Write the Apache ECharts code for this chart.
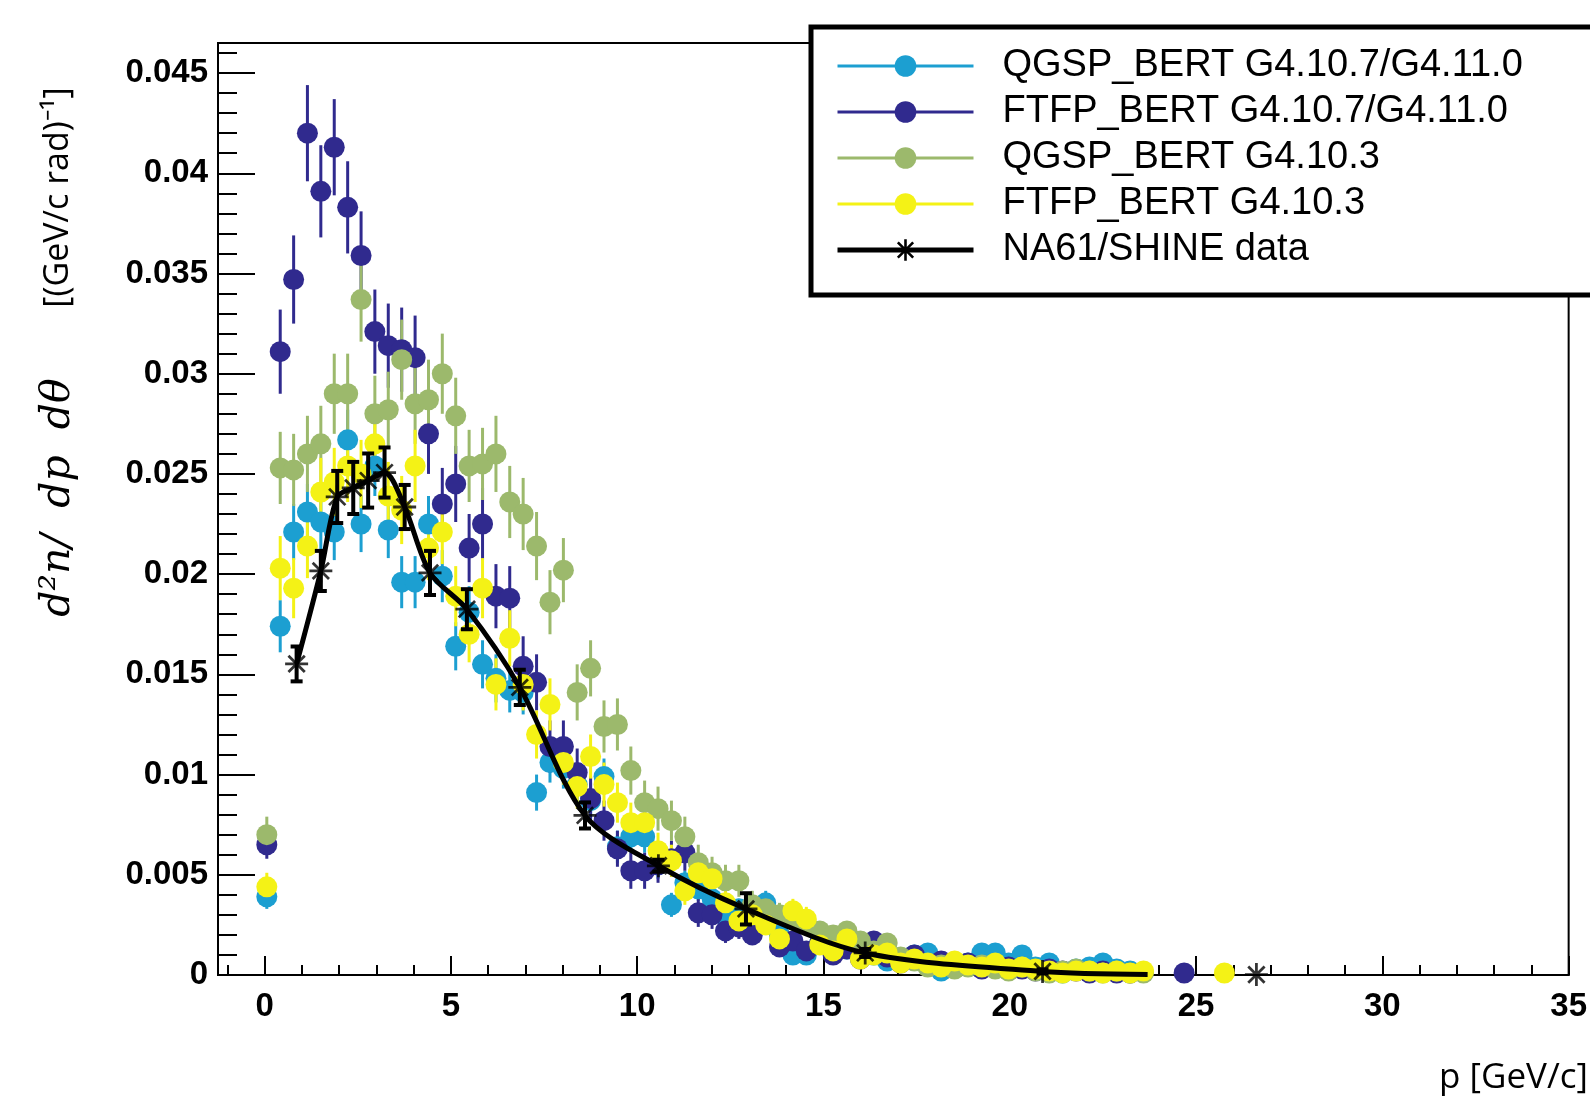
<!DOCTYPE html>
<html><head><meta charset="utf-8">
<script src="https://cdn.jsdelivr.net/npm/echarts@6/dist/echarts.min.js"></script>
<style>html,body{margin:0;padding:0;background:#fff;}#chart{width:1590px;height:1098px;}</style>
</head><body><div id="chart"></div>
<script>
// ---------- DATA ----------
const seriesNames = ['QGSP_BERT G4.10.7/G4.11.0','FTFP_BERT G4.10.7/G4.11.0','QGSP_BERT G4.10.3','FTFP_BERT G4.10.3','NA61/SHINE data'];

// momentum bin centres [GeV/c]
const pGrid = [0.06,0.42,0.78,1.15,1.51,1.87,2.23,2.59,2.96,3.32,
  3.68,4.04,4.40,4.77,5.13,5.49,5.85,6.21,6.58,6.94,
  7.30,7.66,8.02,8.39,8.75,9.11,9.47,9.83,10.20,10.56,
  10.92,11.28,11.64,12.01,12.37,12.73,13.09,13.45,13.82,14.18,
  14.54,14.90,15.26,15.63,15.99,16.35,16.71,17.07,17.44,17.80,
  18.16,18.52,18.88,19.25,19.61,19.97,20.33,20.69,21.06,21.42,
  21.78,22.14,22.50,22.87,23.23,23.59,23.95,24.31,24.68,25.04,
  25.40,25.76];

const qgspNew = [0.0039,0.0174,0.0221,0.0231,0.0226,0.0221,0.0267,0.0225,0.0254,0.0222,
  0.0196,0.0196,0.0225,0.0199,0.0164,0.0181,0.0155,0.0148,0.0142,0.0141,
  0.0091,0.0106,0.0103,0.0095,0.0087,0.0099,0.0064,0.0069,0.0069,0.0055,
  0.0035,0.0046,0.0043,0.0038,0.0029,0.0033,0.0026,0.0036,0.0020,0.0010,
  0.0010,0.0016,0.0019,0.0013,0.0014,0.0010,0.0007,0.0008,0.0010,0.0011,
  0.0002,0.0005,0.0006,0.0011,0.0011,0.0006,0.0010,0.0004,0.0006,0.0001,
  0.0003,0.0004,0.0006,0.0003,0.0002,null,null,null,null,null,
  null,null];
const ftfpNew = [0.0065,0.0311,0.0347,0.0420,0.0391,0.0413,0.0383,0.0359,0.0321,0.0314,
  0.0312,0.0308,0.0270,0.0235,0.0245,0.0213,0.0225,0.0189,0.0188,0.0154,
  0.0146,0.0114,0.0114,0.0101,0.0088,0.0077,0.0063,0.0052,0.0052,0.0055,
  0.0058,0.0061,0.0031,0.0030,0.0022,0.0024,0.0020,0.0026,0.0014,0.0017,
  0.0012,0.0016,0.0010,0.0013,0.0008,0.0017,0.0009,0.0006,0.0010,0.0005,
  0.0007,0.0004,0.0006,0.0003,0.0005,0.0004,0.0003,0.0002,0.0003,0.0002,
  0.0002,0.0001,0.0002,0.0001,0.0001,null,null,null,0.0001,null,
  null,null];
const qgspOld = [0.0070,0.0253,0.0252,0.0260,0.0265,0.0290,0.0290,0.0337,0.0280,0.0282,
  0.0307,0.0285,0.0287,0.0300,0.0279,0.0254,0.0255,0.0260,0.0236,0.0230,
  0.0214,0.0186,0.0202,0.0141,0.0153,0.0124,0.0125,0.0102,0.0086,0.0083,
  0.0077,0.0069,0.0056,0.0051,0.0047,0.0047,0.0035,0.0033,0.0030,0.0028,
  0.0026,0.0022,0.0020,0.0022,0.0017,0.0012,0.0016,0.0009,0.0007,0.0004,
  0.0005,0.0003,0.0004,0.0005,0.0003,0.0002,0.0004,0.0002,0.0001,0.0002,
  0.0003,0.0002,0.0001,0.0002,0.0001,0.0001,null,null,null,null,
  null,null];
const ftfpOld = [0.0044,0.0203,0.0193,0.0214,0.0241,0.0246,0.0254,0.0250,0.0265,0.0239,
  0.0232,0.0254,0.0213,0.0221,0.0189,0.0170,0.0193,0.0145,0.0168,0.0145,
  0.0120,0.0135,0.0106,0.0094,0.0109,0.0095,0.0086,0.0076,0.0076,0.0062,
  0.0057,0.0042,0.0051,0.0048,0.0036,0.0027,0.0030,0.0025,0.0018,0.0032,
  0.0028,0.0015,0.0012,0.0018,0.0008,0.0010,0.0011,0.0006,0.0008,0.0006,
  0.0004,0.0007,0.0005,0.0004,0.0006,0.0003,0.0004,0.0003,0.0002,0.0001,
  0.0002,0.0002,0.0001,0.0002,0.0001,0.0002,null,null,null,null,
  null,0.0001];

// statistical errors, in units of 1e-4 (first bins; later ones are smaller than the markers)
const qgspNewErr = [6,13,14,14,14,14,15,14,15,14,13,13,14,13,12,13,12,12,11,11,9,10,10,9,9,9,8,8,8,7,6,6,6,6,5,5,5,6,4,3,3];
const ftfpNewErr = [7,21,22,24,23,24,23,22,21,21,21,21,20,18,19,17,18,16,16,15,14,13,13,12,11,10,9,9,9,9,9,9,7,7,6,6,5,6,4,5,4];
const qgspOldErr = [9,18,18,19,19,20,20,21,19,19,20,20,20,20,19,18,18,19,18,18,17,16,16,14,14,13,13,12,11,11,10,10,9,8,8,8,7,7,6,6,6];
const ftfpOldErr = [7,16,15,16,17,17,18,17,18,17,17,18,16,16,15,14,15,13,14,13,12,13,11,11,11,11,10,10,10,9,8,7,8,8,7,6,6,5,5,6,6];

// NA61/SHINE measurement
const na61P   = [0.86,1.51,1.95,2.38,2.78,3.22,3.76,4.44,5.43,6.85,8.60,10.57,12.92,16.12,20.88,26.62];
const na61V   = [0.01552,0.02016,0.02385,0.02430,0.02467,0.02507,0.02335,0.02006,0.01825,0.01435,0.00796,0.00545,0.00330,0.00110,0.00018,0.00002];
const na61Err = [0.00087,0.00100,0.00130,0.00130,0.00135,0.00125,0.00110,0.00110,0.00100,0.00088,0.00065,0.00030,0.00078,0.00020,0.00010,0];
// smooth curve drawn through the measurement
const curveP = [0.86,1.51,1.95,2.38,2.78,3.22,3.76,4.44,5.43,6.85,8.60,10.57,12.92,16.12,20.88,23.70];
const curveV = [0.01552,0.02016,0.02385,0.02430,0.02467,0.02507,0.02335,0.02006,0.01825,0.01435,0.00796,0.00545,0.00330,0.00110,0.00018,0.00003];

// axis ticks
const xMajor = [0,5,10,15,20,25,30,35];
const xMinor = [-1,1,2,3,4,6,7,8,9,11,12,13,14,16,17,18,19,21,22,23,24,26,27,28,29,31,32,33,34];
const yMajor = [0,0.005,0.01,0.015,0.02,0.025,0.03,0.035,0.04,0.045];
const yLabels = ['0','0.005','0.01','0.015','0.02','0.025','0.03','0.035','0.04','0.045'];
const yMinor = [0.001,0.002,0.003,0.004,0.006,0.007,0.008,0.009,0.011,0.012,0.013,0.014,0.016,0.017,0.018,0.019,
  0.021,0.022,0.023,0.024,0.026,0.027,0.028,0.029,0.031,0.032,0.033,0.034,0.036,0.037,0.038,0.039,
  0.041,0.042,0.043,0.044,0.046];

// ---------- STYLE ----------
const colors = ['#1c9fd1','#302a8e','#9cb96c','#f4f216'];
const simVals = [qgspNew, ftfpNew, qgspOld, ftfpOld];
const simErrs = [qgspNewErr, ftfpNewErr, qgspOldErr, ftfpOldErr];
const asterisk = 'path://M0,8.8L20,8.8L20,11.2L0,11.2Z M8.8,0L11.2,0L11.2,20L8.8,20Z M2.05,3.75L3.75,2.05L17.95,16.25L16.25,17.95Z M16.25,2.05L17.95,3.75L3.75,17.95L2.05,16.25Z';

function pts(vals){ const out=[]; vals.forEach((v,i)=>{ if(v!==null) out.push([pGrid[i], v]); }); return out; }
function errPts(vals, errs){ const out=[]; errs.forEach((e,i)=>{ if(vals[i]!==null) out.push([pGrid[i], vals[i], e*1e-4]); }); return out; }

const series = [];
simVals.forEach((vals, s) => {
  const col = colors[s];
  series.push({
    type:'custom', name:'err'+s, xAxisIndex:0, yAxisIndex:0, z:2,
    data: errPts(vals, simErrs[s]), encode:{x:0,y:1}, silent:true,
    renderItem: function(params, api){
      const x = api.value(0), y = api.value(1), e = api.value(2);
      const a = api.coord([x, y - e]), b = api.coord([x, y + e]);
      return {type:'line', shape:{x1:a[0],y1:a[1],x2:b[0],y2:b[1]}, style:{stroke:col, lineWidth:3}};
    }
  });
  series.push({
    type:'line', name:seriesNames[s], xAxisIndex:0, yAxisIndex:0, z:2,
    data: pts(vals), color: col,
    symbol:'circle', symbolSize:21, showSymbol:true,
    lineStyle:{width:3, opacity:0}, itemStyle:{color:col, opacity:1},
    emphasis:{disabled:true}, silent:true
  });
});
series.push({
  type:'line', name:seriesNames[4], xAxisIndex:0, yAxisIndex:0, z:5,
  data: curveP.map((p,i)=>[p, curveV[i]]), color:'#000',
  smooth:0.3, showSymbol:false,
  symbol: asterisk, symbolSize:22,
  lineStyle:{width:5, color:'#000'}, itemStyle:{color:'#000'},
  emphasis:{disabled:true}, silent:true
});
series.push({
  type:'custom', name:'na61err', xAxisIndex:0, yAxisIndex:0, z:6,
  data: na61P.map((p,i)=>[p, na61V[i], na61Err[i]]), encode:{x:0,y:1}, silent:true,
  renderItem: function(params, api){
    const x = api.value(0), y = api.value(1), e = api.value(2);
    if (!(e > 0)) return null;
    const a = api.coord([x, y - e]), b = api.coord([x, y + e]);
    const st = {stroke:'#000', lineWidth:4};
    return {type:'group', children:[
      {type:'line', shape:{x1:a[0],y1:a[1],x2:b[0],y2:b[1]}, style:st},
      {type:'line', shape:{x1:a[0]-6,y1:a[1],x2:a[0]+6,y2:a[1]}, style:st},
      {type:'line', shape:{x1:b[0]-6,y1:b[1],x2:b[0]+6,y2:b[1]}, style:st}
    ]};
  }
});
series.push({
  type:'scatter', name:'na61pts', xAxisIndex:0, yAxisIndex:0, z:7,
  data: na61P.map((p,i)=>[p, na61V[i]]),
  symbol: asterisk, symbolSize:23, itemStyle:{color:'#000'}, silent:true
});

const tickFont = {fontFamily:'Liberation Sans', fontWeight:'bold', fontSize:33, color:'#000'};
const legendItems = seriesNames.map((n, i) => ({name:n, lineStyle:{width: i === 4 ? 5 : 3, opacity:1}}));

const option = {
  animation:false,
  backgroundColor:'#fff',
  grid:{left:218, top:43, right:15, bottom:123, show:true, borderColor:'#000', borderWidth:2, backgroundColor:'transparent'},
  xAxis:[
    {type:'value', min:-1.25, max:35, position:'bottom',
     axisLine:{show:true, onZero:false, lineStyle:{color:'#000', width:2}},
     axisTick:{show:true, inside:true, length:19, customValues:xMajor, lineStyle:{color:'#000', width:2}},
     axisLabel:Object.assign({show:true, customValues:xMajor, margin:15}, tickFont),
     splitLine:{show:false}},
    {type:'value', min:-1.25, max:35, position:'bottom',
     axisLine:{show:false, onZero:false},
     axisTick:{show:true, inside:true, length:10, customValues:xMinor, lineStyle:{color:'#000', width:2}},
     axisLabel:{show:false}, splitLine:{show:false}}
  ],
  yAxis:[
    {type:'value', min:0, max:0.0465, position:'left',
     axisLine:{show:true, onZero:false, lineStyle:{color:'#000', width:2}},
     axisTick:{show:true, inside:true, length:37, customValues:yMajor, lineStyle:{color:'#000', width:2}},
     axisLabel:Object.assign({show:true, customValues:yMajor, margin:10,
       formatter:function(v){ const i = yMajor.indexOf(v); return i>=0 ? yLabels[i] : ''; }}, tickFont),
     splitLine:{show:false}},
    {type:'value', min:0, max:0.0465, position:'left',
     axisLine:{show:false, onZero:false},
     axisTick:{show:true, inside:true, length:19, customValues:yMinor, lineStyle:{color:'#000', width:2}},
     axisLabel:{show:false}, splitLine:{show:false}}
  ],
  legend:{
    orient:'vertical', left:811, top:27,
    data:legendItems, selectedMode:false,
    backgroundColor:'#fff', borderColor:'#000', borderWidth:5, borderRadius:0,
    padding:[19,120,25,24],
    itemWidth:136, itemHeight:27, itemGap:6,
    textStyle:{fontFamily:'Liberation Sans', fontSize:38, color:'#000', lineHeight:40, padding:[0,0,0,24]},
    lineStyle:{opacity:1},
    z:10
  },
  graphic:[
    {type:'text', x:58, y:352, rotation:Math.PI/2, z:10,
     style:{text:'{m|d²n/  dp  dθ}{r|        [(GeV/c rad)⁻¹]}', align:'center', verticalAlign:'middle',
       rich:{m:{fontFamily:'DejaVu Serif', fontStyle:'italic', fontSize:41, fill:'#000'},
             r:{fontFamily:'Open Sans', fontSize:34, fill:'#000'}}}},
    {type:'text', x:1588, y:1078, z:10,
     style:{text:'p [GeV/c]', fontFamily:'Open Sans', fontSize:35, fill:'#000', align:'right', verticalAlign:'middle'}}
  ],
  series:series
};
const chart = echarts.init(document.getElementById('chart'), null, {renderer:'canvas'});
chart.setOption(option);
</script></body></html>
